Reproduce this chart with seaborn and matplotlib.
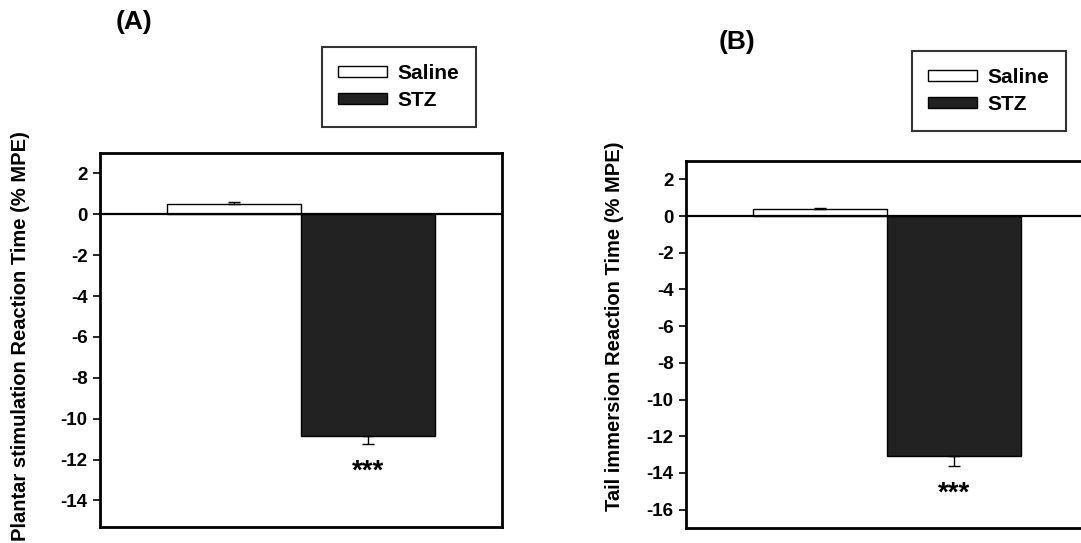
import matplotlib
matplotlib.use("Agg")
import matplotlib.pyplot as plt
from matplotlib.patches import Patch
import seaborn as sns
import pandas as pd

sns.set_theme(style="white")
plt.rcParams['font.family'] = ['Liberation Sans', 'DejaVu Sans']
plt.rcParams['font.weight'] = 'bold'
plt.rcParams['text.color'] = 'black'
plt.rcParams['axes.labelcolor'] = 'black'
plt.rcParams['ytick.color'] = 'black'
plt.rcParams['xtick.color'] = 'black'

# ---- data ----
groups = ["Saline", "STZ"]
plantar_means = [0.5, -10.85]
plantar_sem = [0.1, 0.4]
tail_means = [0.4, -13.1]
tail_sem = [0.05, 0.5]
panel_titles = ["(A)", "(B)"]
ylabels = ["Plantar stimulation Reaction Time (% MPE)",
           "Tail immersion Reaction Time (% MPE)"]
yticks_a = [2, 0, -2, -4, -6, -8, -10, -12, -14]
yticks_b = [2, 0, -2, -4, -6, -8, -10, -12, -14, -16]
sig_label = "***"

colors = {"Saline": "#ffffff", "STZ": "#222222"}

W, H = 1081, 543
fig = plt.figure(figsize=(W / 100, H / 100), dpi=100)


def px_axes(left, top, right, bottom):
    return fig.add_axes([left / W, 1 - bottom / H, (right - left) / W, (bottom - top) / H])


axA = px_axes(100, 153, 502, 527)
axB = px_axes(686, 161, 1088, 528)


def draw(ax, means, sems, ylim, yticks, ylabel, sig_y, label_xy):
    df = pd.DataFrame({"cond": ["x", "x"], "group": groups, "value": means})
    sns.barplot(data=df, x="cond", y="value", hue="group", hue_order=groups,
                palette=colors, errorbar=None, width=0.8, edgecolor="black",
                linewidth=1.0, ax=ax, legend=False)
    ax.axhline(0, color="black", lw=1.6, zorder=5)
    for cont, m, s in zip(ax.containers, means, sems):
        for bar in cont:
            cx = bar.get_x() + bar.get_width() / 2
            yerr = [[0], [s]] if m >= 0 else [[s], [0]]
            ax.errorbar([cx], [m], yerr=yerr, fmt="none", ecolor="black",
                        elinewidth=1.0, capsize=4, capthick=1.0, zorder=6)
    stz_bar = ax.containers[1][0]
    ax.text(stz_bar.get_x() + stz_bar.get_width() / 2, sig_y, sig_label,
            ha="center", va="center", fontsize=20, fontweight="bold", color="black")
    ax.set_xlim(-0.6, 0.6)
    ax.set_ylim(*ylim)
    ax.set_yticks(yticks)
    ax.set_yticklabels([str(t) for t in yticks], fontsize=13.5, fontweight="bold")
    ax.set_xticks([])
    ax.set_xlabel("")
    ax.set_ylabel(ylabel, fontsize=14.5, fontweight="bold")
    ax.yaxis.set_label_coords(*label_xy)
    ax.tick_params(axis="y", direction="out", length=5, width=1.2, left=True, pad=4,
                   colors="black")
    for sp in ax.spines.values():
        sp.set_visible(True)
        sp.set_color("black")
        sp.set_linewidth(2.0)


draw(axA, plantar_means, plantar_sem, (-15.3, 3.0), yticks_a, ylabels[0], -12.6, (-0.175, 0.51))
draw(axB, tail_means, tail_sem, (-17.0, 3.0), yticks_b, ylabels[1], -15.1, (-0.155, 0.55))

# panel titles
fig.text(134 / W, 1 - 22 / H, panel_titles[0], ha="center", va="center",
         fontsize=19, fontweight="bold", color="black")
fig.text(737 / W, 1 - 42 / H, panel_titles[1], ha="center", va="center",
         fontsize=19, fontweight="bold", color="black")

# legends
for ax, (cx, cy) in ((axA, (399, 87)), (axB, (989, 91))):
    handles = [Patch(facecolor=colors[g], edgecolor="black", linewidth=1.0, label=g)
               for g in groups]
    leg = ax.legend(handles=handles, loc="center",
                    bbox_to_anchor=(cx / W, 1 - cy / H), bbox_transform=fig.transFigure,
                    frameon=True, fancybox=False, edgecolor="black",
                    prop={"weight": "bold", "size": 15},
                    handlelength=2.35, handleheight=0.4, labelspacing=0.4,
                    borderpad=0.8, handletextpad=0.5, borderaxespad=0)
    leg.get_frame().set_linewidth(1.5)
    for t in leg.get_texts():
        t.set_color("black")

fig.savefig("out.png", dpi=100, facecolor="white")
